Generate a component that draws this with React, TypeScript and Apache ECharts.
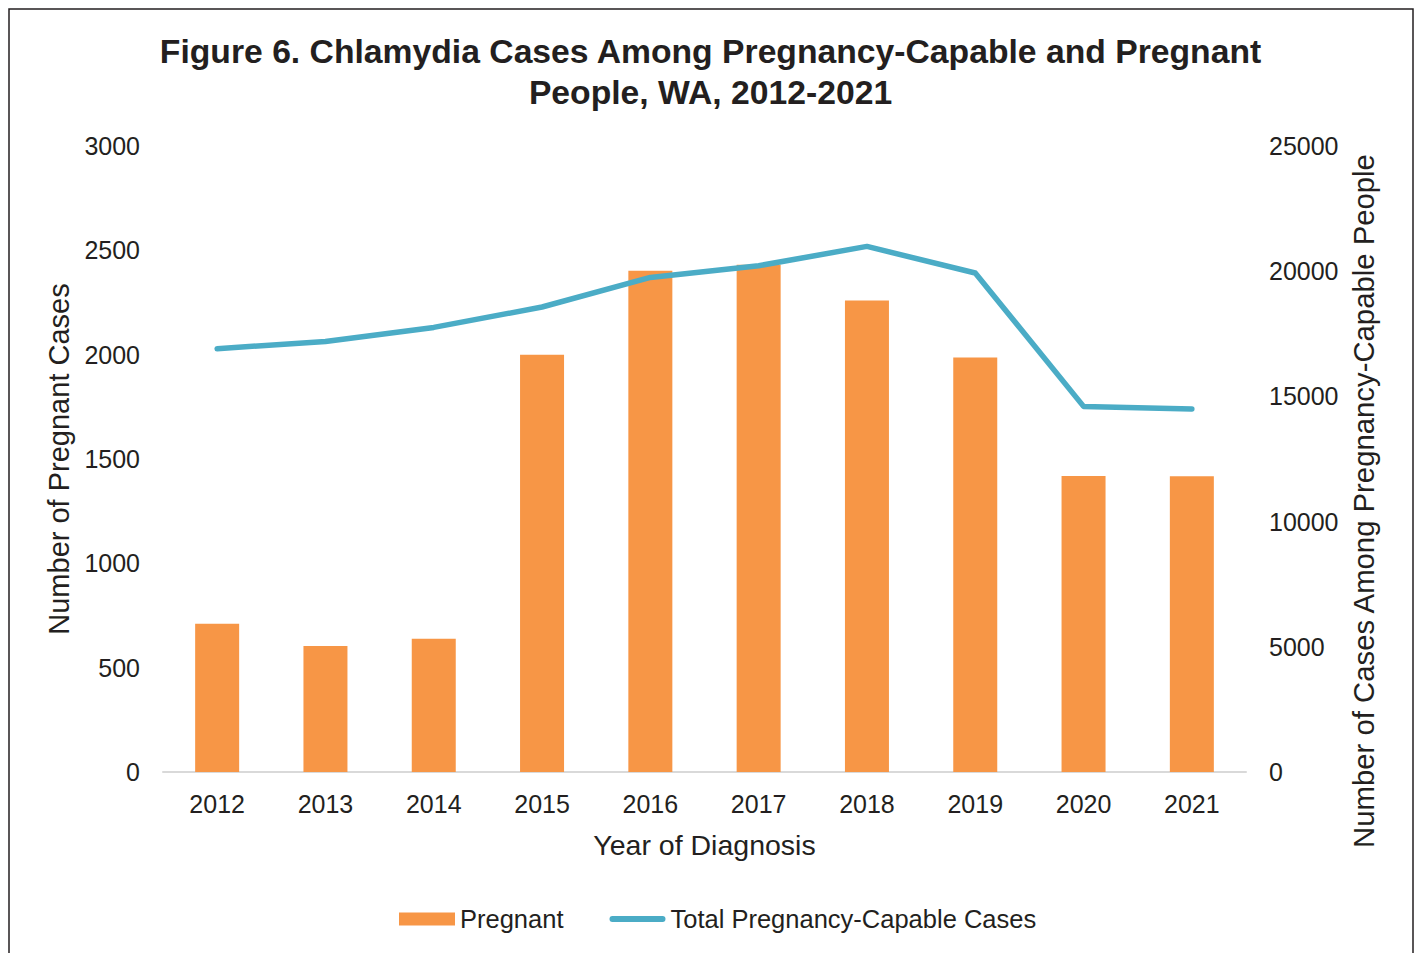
import React, { useEffect, useRef } from "react";
import * as echarts from "echarts";

const categories = ["2012", "2013", "2014", "2015", "2016", "2017", "2018", "2019", "2020", "2021"];
const pregnantCases = [711, 604, 639, 2000, 2402, 2431, 2259, 1987, 1418, 1417];
const totalCapableCases = [16905, 17196, 17755, 18570, 19752, 20220, 20990, 19928, 14601, 14497];

const titleText = "Figure 6. Chlamydia Cases Among Pregnancy-Capable and Pregnant\nPeople, WA, 2012-2021";
const FONT = "'Liberation Sans', Arial, sans-serif";
const TXT = "#231f20";
const plain = (v: number) => String(v);

export default function App() {
  const ref = useRef<HTMLDivElement>(null);
  useEffect(() => {
    document.body.style.margin = "0";
    const chart = echarts.init(ref.current!, null, { renderer: "svg" });
    chart.setOption({
      animation: false,
      backgroundColor: "#ffffff",
      textStyle: { fontFamily: FONT, color: TXT },
      title: {
        text: titleText,
        left: "center",
        top: 25,
        textStyle: { fontFamily: FONT, fontSize: 33.7, fontWeight: "bold", color: TXT, lineHeight: 41 },
      },
      graphic: [
        {
          type: "rect",
          shape: { x: 9, y: 9, width: 1404, height: 980 },
          style: { fill: "none", stroke: "#231f20", lineWidth: 1.5 },
          silent: true,
        },
      ],
      legend: {
        left: 399,
        top: 906,
        padding: 0,
        itemWidth: 56,
        itemHeight: 13,
        itemGap: 46,
        textStyle: { fontFamily: FONT, fontSize: 25.5, color: TXT },
        data: [
          { name: "Pregnant", icon: "rect" },
          {
            name: "Total Pregnancy-Capable Cases",
            icon: "path://M3,0 L55,0 A3,3 0 0 1 55,6 L3,6 A3,3 0 0 1 3,0 Z",
            itemStyle: { color: "#4BACC6" },
          },
        ],
      },
      grid: { left: 163, right: 175, top: 146, bottom: 181 },
      xAxis: {
        type: "category",
        data: categories,
        name: "Year of Diagnosis",
        nameLocation: "middle",
        nameGap: 58,
        nameTextStyle: { fontFamily: FONT, fontSize: 28.5, color: TXT },
        axisLine: { show: true, lineStyle: { color: "#d9d9d9", width: 2 } },
        axisTick: { show: false },
        axisLabel: { fontFamily: FONT, fontSize: 25, color: TXT, margin: 19 },
      },
      yAxis: [
        {
          type: "value",
          min: 0,
          max: 3000,
          interval: 500,
          position: "left",
          name: "Number of Pregnant Cases",
          nameLocation: "middle",
          nameRotate: 90,
          nameGap: 80,
          nameTextStyle: { fontFamily: FONT, fontSize: 29, color: TXT },
          axisLine: { show: false },
          axisTick: { show: false },
          splitLine: { show: false },
          axisLabel: { fontFamily: FONT, fontSize: 25, color: TXT, margin: 23, formatter: plain },
        },
        {
          type: "value",
          min: 0,
          max: 25000,
          interval: 5000,
          position: "right",
          name: "Number of Cases Among Pregnancy-Capable People",
          nameLocation: "middle",
          nameRotate: 90,
          nameGap: 97,
          nameTextStyle: { fontFamily: FONT, fontSize: 29.3, color: TXT, padding: [0, 84, 0, 0] },
          axisLine: { show: false },
          axisTick: { show: false },
          splitLine: { show: false },
          axisLabel: { fontFamily: FONT, fontSize: 25, color: TXT, margin: 23, formatter: plain },
        },
      ],
      series: [
        {
          name: "Pregnant",
          type: "bar",
          yAxisIndex: 0,
          data: pregnantCases,
          barWidth: 44,
          itemStyle: { color: "#F79646" },
        },
        {
          name: "Total Pregnancy-Capable Cases",
          type: "line",
          yAxisIndex: 1,
          data: totalCapableCases,
          symbol: "none",
          lineStyle: { color: "#4BACC6", width: 5.5, cap: "round", join: "round" },
          itemStyle: { color: "#4BACC6" },
        },
      ],
    });
    return () => chart.dispose();
  }, []);
  return <div ref={ref} style={{ width: 1421, height: 953 }} />;
}
